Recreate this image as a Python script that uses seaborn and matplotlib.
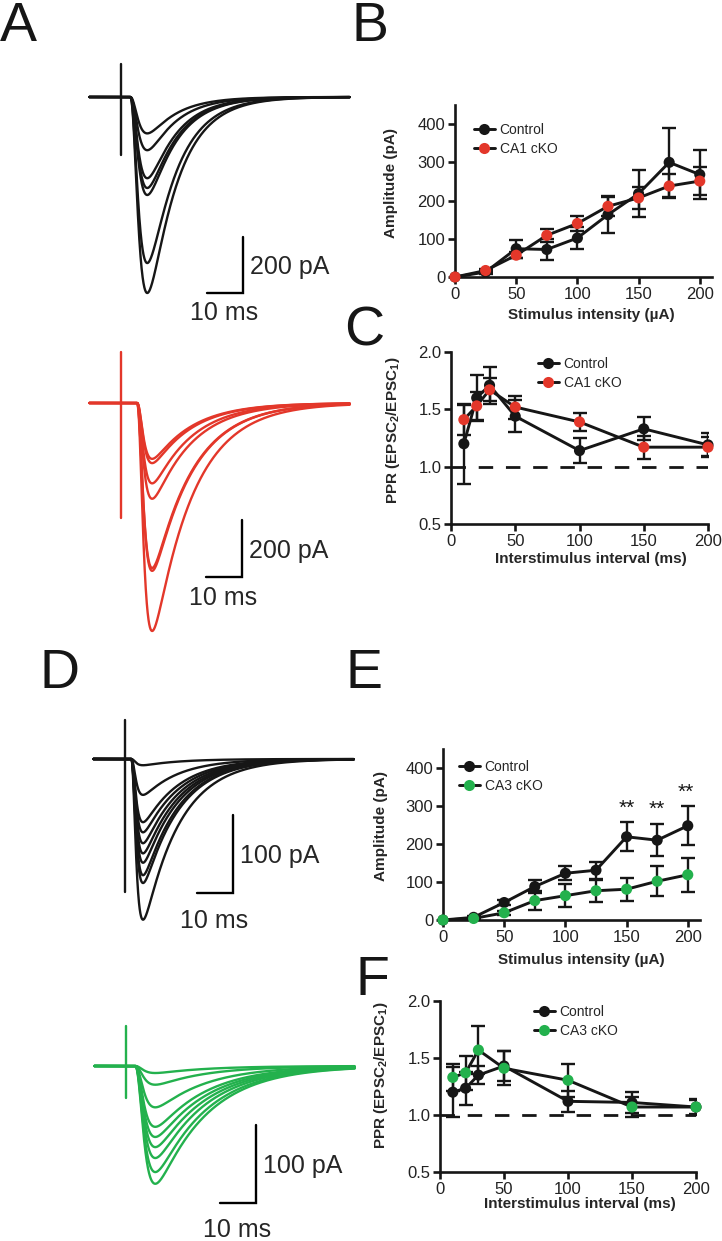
import numpy as np
import pandas as pd
import matplotlib
matplotlib.use("Agg")
import matplotlib.pyplot as plt
import seaborn as sns
from matplotlib.lines import Line2D

W, H = 722, 1241

# ---- data ----
stim_ua = [0, 25, 50, 75, 100, 125, 150, 175, 200]
isi_ms = [10, 20, 30, 50, 100, 150, 200]

# B: CA1 input/output
ca1_amp_ctrl = [0, 13, 74, 72, 102, 163, 218, 300, 268]
ca1_amp_ctrl_sem = [0, 4, 24, 27, 28, 48, 61, 90, 65]
ca1_amp_cko = [0, 17, 57, 109, 140, 185, 207, 238, 251]
ca1_amp_cko_sem = [0, 4, 8, 17, 19, 25, 28, 32, 37]

# C: CA1 paired-pulse ratio
ca1_ppr_ctrl = [1.20, 1.60, 1.71, 1.44, 1.14, 1.33, 1.19]
ca1_ppr_ctrl_sem = [0.35, 0.20, 0.16, 0.14, 0.11, 0.10, 0.10]
ca1_ppr_cko = [1.41, 1.53, 1.67, 1.52, 1.39, 1.17, 1.17]
ca1_ppr_cko_sem = [0.13, 0.12, 0.10, 0.10, 0.075, 0.10, 0.09]

# E: CA3 input/output
ca3_amp_ctrl = [0, 7, 46, 88, 123, 131, 219, 210, 248]
ca3_amp_ctrl_sem = [0, 3, 6, 16, 19, 22, 38, 42, 51]
ca3_amp_cko = [0, 4, 19, 51, 64, 77, 81, 102, 119]
ca3_amp_cko_sem = [0, 2, 5, 25, 30, 29, 30, 39, 45]
ca3_sig_idx = [6, 7, 8]  # points marked "**"

# F: CA3 paired-pulse ratio
ca3_ppr_ctrl = [1.20, 1.235, 1.35, 1.43, 1.12, 1.11, 1.07]
ca3_ppr_ctrl_sem = [0.22, 0.145, 0.08, 0.13, 0.09, 0.09, 0.07]
ca3_ppr_cko = [1.33, 1.37, 1.57, 1.41, 1.305, 1.07, 1.07]
ca3_ppr_cko_sem = [0.12, 0.15, 0.21, 0.15, 0.145, 0.09, 0.06]

# A/D: peak amplitudes (pA) of the example EPSC traces
ca1_ctrl_peaks = [130, 190, 290, 325, 350, 593, 700]
ca1_cko_peaks = [196, 211, 282, 336, 579, 589, 800]
ca3_ctrl_peaks = [8, 46, 81, 94, 108, 121, 133, 149, 159, 206]
ca3_cko_peaks = [9, 24, 53, 78, 91, 104, 118, 136, 151]

BLACK = "#161616"
RED = "#e3372a"
GREEN = "#23b14d"

sns.set_theme(style="ticks")
plt.rcParams["font.family"] = ["Liberation Sans", "DejaVu Sans"]
plt.rcParams["mathtext.fontset"] = "custom"
plt.rcParams["mathtext.rm"] = "Liberation Sans"
plt.rcParams["mathtext.bf"] = "Liberation Sans:bold"

fig = plt.figure(figsize=(W / 100, H / 100), dpi=100)


def px_axes(left, top, right, bottom):
    return fig.add_axes([left / W, 1 - bottom / H, (right - left) / W, (bottom - top) / H])


MS_PX = 3.6  # px per ms in the trace panels


def trace_panel(box, origin, pa_px, peaks, color, kin, artifact, corner, bar_pa, ms_gap):
    left, top, right, bottom = box
    x0, y0 = origin
    ax = px_axes(*box)
    ax.set_xlim((left - x0) / MS_PX, (right - x0) / MS_PX)
    ax.set_ylim(-(bottom - y0) / pa_px, (y0 - top) / pa_px)
    ax.axis("off")

    # EPSC kinetics template, scaled by each trace's peak
    onset, tr, td = kin
    t = np.linspace(-8.8, 63.5, 1500)
    s = np.clip(t - onset, 0, None)
    shape = (1 - np.exp(-s / tr)) ** 3 * np.exp(-s / td)
    shape /= shape.max()
    for p in peaks:
        ax.plot(t, -p * shape, color=color, lw=1.7)
    # stimulus artifact
    ax.plot([0, 0], [(y0 - artifact[0]) / pa_px, (y0 - artifact[1]) / pa_px], color=color, lw=1.7)

    # scale bar
    bx = (corner[0] - x0) / MS_PX
    by = -(corner[1] - y0) / pa_px
    ax.plot([bx - 10, bx, bx], [by, by, by + bar_pa], color="black", lw=1.7, solid_joinstyle="miter")
    ax.annotate(f"{bar_pa} pA", xy=(bx, by + bar_pa / 2), xytext=(5, -1.5),
                textcoords="offset points", ha="left", va="center", fontsize=18)
    ax.annotate("10 ms", xy=(bx - 5, by), xytext=(-1, -ms_gap * 0.72),
                textcoords="offset points", ha="center", va="center", fontsize=18)


def graph_panel(box, xlim, ylim, yticks, x, ctrl, ctrl_sem, cko, cko_sem, cko_color, cko_label,
                xlabel, ylabel, xlab_pos, ylab_pos, legend_px, dashed=False):
    ax = px_axes(*box)
    n = len(x)
    df = pd.DataFrame({
        "x": list(x) * 2,
        "y": list(ctrl) + list(cko),
        "group": ["Control"] * n + [cko_label] * n,
    })
    if dashed:
        ax.axhline(1.0, color=BLACK, lw=2, ls=(0, (5.2, 4.6)), zorder=1)
    for vals, sem in ((ctrl, ctrl_sem), (cko, cko_sem)):
        m = np.array(sem) > 0
        ax.errorbar(np.array(x)[m], np.array(vals)[m], yerr=np.array(sem)[m], fmt="none",
                    ecolor=BLACK, elinewidth=1.7, capsize=4.8, capthick=1.7, zorder=2)
    sns.lineplot(data=df, x="x", y="y", units="group", estimator=None, color=BLACK,
                 lw=2.1, ax=ax, zorder=3, clip_on=False)
    sns.scatterplot(data=df, x="x", y="y", hue="group",
                    palette={"Control": BLACK, cko_label: cko_color},
                    s=64, linewidth=0, ax=ax, zorder=4, legend=False, clip_on=False)

    ax.set_xlim(xlim)
    ax.set_ylim(ylim)
    ax.set_xticks([0, 50, 100, 150, 200])
    ax.set_yticks(yticks)
    sns.despine(ax=ax)
    for side in ("left", "bottom"):
        ax.spines[side].set_linewidth(1.9)
        ax.spines[side].set_color(BLACK)
    ax.tick_params(width=1.9, length=5, labelsize=12, pad=2, color=BLACK, labelcolor="#222222")
    ax.set_xlabel(xlabel, fontsize=11, fontweight="bold", va="top")
    ax.set_ylabel(ylabel, fontsize=11, fontweight="bold")
    ax.xaxis.set_label_coords(*xlab_pos)
    ax.yaxis.set_label_coords(*ylab_pos)

    handles = [Line2D([], [], color=BLACK, lw=2.1, marker="o", markersize=8,
                      markerfacecolor=c, markeredgewidth=0) for c in (BLACK, cko_color)]
    ax.legend(handles, ["Control", cko_label], loc="upper left",
              bbox_to_anchor=(legend_px[0] / W, 1 - legend_px[1] / H),
              bbox_transform=fig.transFigure, frameon=False, fontsize=10,
              handlelength=1.5, handletextpad=0.35, labelspacing=0.35,
              borderpad=0, borderaxespad=0)
    return ax


# ---- traces ----
trace_panel((60, 50, 380, 330), (121, 97), 0.28, ca1_ctrl_peaks, BLACK,
            (2.5, 1.8, 8.0), (64, 155), (243, 293), 200, 20)
trace_panel((60, 335, 380, 640), (121, 403), 0.285, ca1_cko_peaks, RED,
            (4.4, 1.3, 11.0), (352, 518), (242, 577), 200, 21)
trace_panel((60, 700, 380, 945), (125, 759), 0.78, ca3_ctrl_peaks, BLACK,
            (1.7, 0.95, 10.0), (720, 892), (233, 893), 100, 28)
trace_panel((60, 1000, 380, 1241), (126, 1066), 0.78, ca3_cko_peaks, GREEN,
            (2.5, 1.75, 14.0), (1026, 1098), (256, 1203), 100, 27)

# ---- summary graphs ----
ppr_label = r"PPR (EPSC$_\mathbf{2}$/EPSC$_\mathbf{1}$)"

graph_panel((455, 105, 712, 277), (0, 210), (0, 450), [0, 100, 200, 300, 400],
            stim_ua, ca1_amp_ctrl, ca1_amp_ctrl_sem, ca1_amp_cko, ca1_amp_cko_sem,
            RED, "CA1 cKO", "Stimulus intensity (µA)", "Amplitude (pA)",
            (0.529, -0.18), (-0.222, 0.547), (474, 123))

graph_panel((451, 352, 708, 524), (0, 200), (0.5, 2.0), [0.5, 1.0, 1.5, 2.0],
            isi_ms, ca1_ppr_ctrl, ca1_ppr_ctrl_sem, ca1_ppr_cko, ca1_ppr_cko_sem,
            RED, "CA1 cKO", "Interstimulus interval (ms)", ppr_label,
            (0.545, -0.163), (-0.19, 0.547), (538, 357), dashed=True)

axE = graph_panel((443, 749, 700, 920), (0, 210), (0, 450), [0, 100, 200, 300, 400],
                  stim_ua, ca3_amp_ctrl, ca3_amp_ctrl_sem, ca3_amp_cko, ca3_amp_cko_sem,
                  GREEN, "CA3 cKO", "Stimulus intensity (µA)", "Amplitude (pA)",
                  (0.54, -0.193), (-0.214, 0.55), (459, 760))
for i in ca3_sig_idx:
    axE.text(stim_ua[i] - (2 if i == 8 else 0), ca3_amp_ctrl[i] + ca3_amp_ctrl_sem[i] + 38,
             "**", ha="center", va="center", fontsize=15, color=BLACK)

graph_panel((440, 1001, 696, 1172), (0, 200), (0.5, 2.0), [0.5, 1.0, 1.5, 2.0],
            isi_ms, ca3_ppr_ctrl, ca3_ppr_ctrl_sem, ca3_ppr_cko, ca3_ppr_cko_sem,
            GREEN, "CA3 cKO", "Interstimulus interval (ms)", ppr_label,
            (0.547, -0.146), (-0.195, 0.567), (534, 1005), dashed=True)

# ---- panel letters ----
for letter, (lx, ly) in {"A": (0, 41), "B": (352, 41), "C": (344, 346),
                         "D": (40, 688), "E": (345, 688), "F": (355, 995)}.items():
    fig.text(lx / W, 1 - ly / H, letter, fontsize=40, ha="left", va="baseline", color=BLACK)

fig.savefig("out.png", dpi=100)
